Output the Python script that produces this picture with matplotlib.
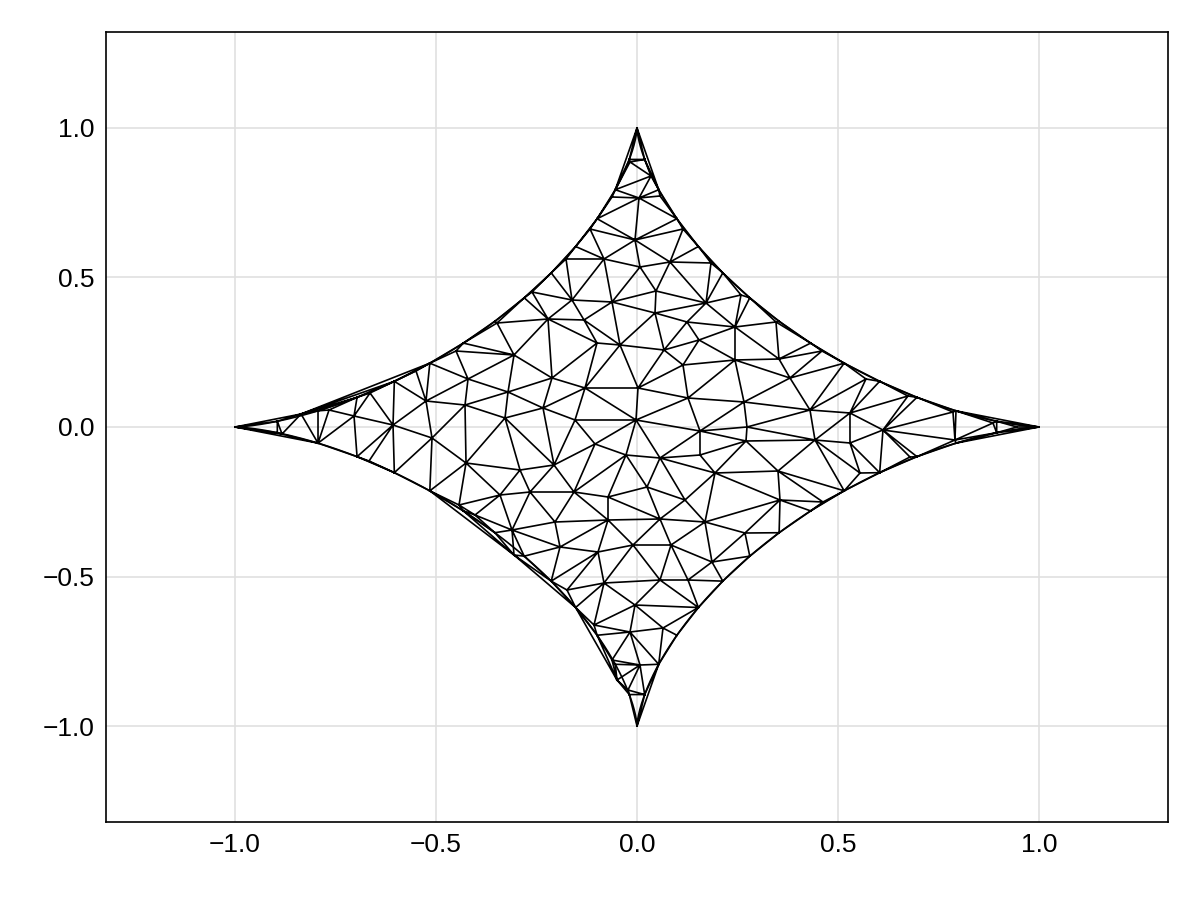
import numpy as np
import matplotlib
matplotlib.use("Agg")
import matplotlib.pyplot as plt
import matplotlib.tri as mtri

plt.rcParams['font.family'] = ['Liberation Sans', 'DejaVu Sans']

# interior vertices (pixel coords)
px = [(630,162),(651,176),(612,197),(639,198),(660,196),(590,229),(635,240),(683,229),
(566,259),(604,259),(640,267),(670,262),(711,263),(532,292),(572,300),(612,302),(656,291),(706,303),(741,295),
(497,323),(514,355),(548,319),(584,320),(620,345),(655,313),(687,322),(735,327),(776,322),(779,359),
(456,351),(468,379),(552,378),(597,343),(664,350),(699,340),(735,360),(822,351),
(416,371),(426,401),(508,392),(585,388),(638,388),(683,365),(688,398),(744,402),(790,378),(866,379),
(370,393),(393,425),(465,405),(505,418),(543,408),(575,420),(636,420),(700,431),(747,427),(810,410),(850,413),(908,396),
(329,410),(354,416),(369,461),(432,438),(466,463),(520,470),(554,465),(595,444),(626,455),(660,458),(700,455),
(746,441),(778,471),(815,440),(850,443),(883,430),(910,457),(953,412),(955,440),
(459,505),(500,495),(530,492),(574,492),(608,497),(647,487),(685,500),(715,473),(823,502),(860,473),
(475,515),(512,530),(555,522),(608,520),(660,519),(705,522),(745,533),(780,500),
(514,555),(560,547),(598,552),(633,545),(671,545),(712,562),(567,590),(604,583),(635,605),(660,580),(688,580),
(594,625),(630,632),(663,628),(640,665),(612,660),(617,680),(628,690),
(282,434),(301,414),(1017,427),(993,423)]

x_in = np.array([(p[0]-637)/402 for p in px])
y_in = np.array([(427-p[1])/299 for p in px])

# boundary nodes on the astroid, roughly evenly spaced along the curve
n_per_q = 14
u = np.arange(n_per_q + 1) / n_per_q
tq = np.arcsin(np.sqrt(np.clip(u, 0, 1)))
half = np.concatenate([tq[:n_per_q//2], np.pi/2 - tq[:n_per_q//2 + 1][::-1]])
t_b = np.unique(np.round(np.mod(np.concatenate([half + k*np.pi/2 for k in range(4)]), 2*np.pi), 9))
xb = np.cos(t_b)**3
yb = np.sin(t_b)**3

x = np.concatenate([xb, x_in])
y = np.concatenate([yb, y_in])
tri = mtri.Triangulation(x, y)
cx = x[tri.triangles].mean(axis=1)
cy = y[tri.triangles].mean(axis=1)
tri.set_mask(np.abs(cx)**(2/3) + np.abs(cy)**(2/3) > 1.02)

fig = plt.figure(figsize=(12, 9), dpi=100)
ax = fig.add_axes([106/1200, 1-822/900, (1168-106)/1200, (822-32)/900])
ax.set_axisbelow(True)
ax.grid(True, color='#e0e0e0', linewidth=1.2)
ax.triplot(tri, color='black', linewidth=1.2)
ts = np.linspace(0, 2*np.pi, 800)
ax.plot(np.cos(ts)**3, np.sin(ts)**3, color='black', linewidth=1.2)
ax.set_xlim(-1.321, 1.321)
ax.set_ylim(-1.321, 1.321)
ticks = [-1.0, -0.5, 0.0, 0.5, 1.0]
ax.set_xticks(ticks)
ax.set_yticks(ticks)
lab = [f"{v:.1f}".replace('-', '\u2212') for v in ticks]
ax.set_xticklabels(lab)
ax.set_yticklabels(lab)
ax.tick_params(length=0, labelsize=19, pad=8)
for s in ax.spines.values():
    s.set_linewidth(1.2)
fig.savefig("out.png", dpi=100)
